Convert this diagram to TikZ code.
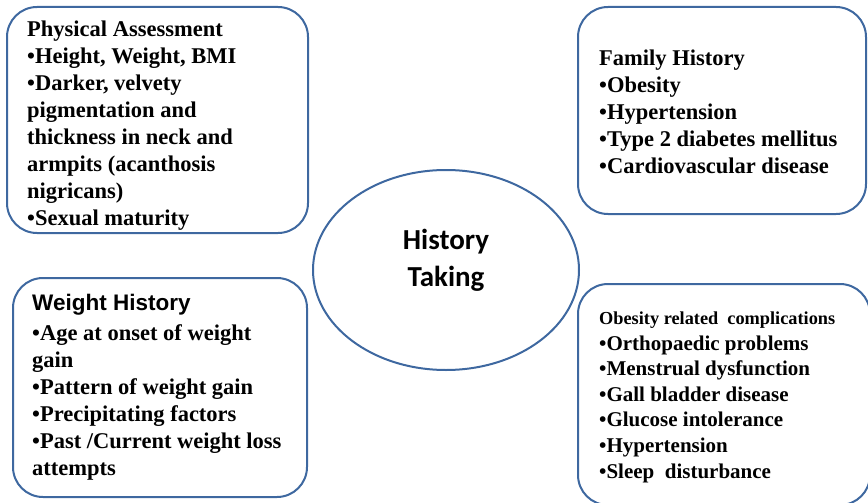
\documentclass[tikz,border=0pt]{standalone}
\usepackage{fontspec}
\usepackage{tikz}
\usetikzlibrary{shapes.geometric}
\setmainfont{Liberation Serif}
\newfontfamily\calibri{Carlito}
\newfontfamily\arial{Liberation Sans}
\definecolor{boxblue}{RGB}{62,104,160}

\begin{document}
\begin{tikzpicture}[x=1pt, y=-1pt,
    box/.style={draw=boxblue, line width=2pt, rounded corners=30pt, inner sep=0pt},
    txt/.style={anchor=north west, align=left, inner sep=0pt,
        font=\bfseries\fontsize{22.5}{27}\selectfont},
    hub/.style={draw=boxblue, line width=2pt, ellipse, inner sep=0pt}]

    \useasboundingbox (0,0) rectangle (868,503);

    % Centre
    \node[hub, minimum width=266, minimum height=200] (hist) at (446,270) {};
    \node[align=center, font=\calibri\bfseries\fontsize{29}{37}\selectfont] (histText) at (446,260) {History\\Taking};

    % Top left
    \node[box, minimum width=301, minimum height=226] (phys) at (157.5,120) {};
    \node[txt] (physText) at ([shift={(21,14.2)}]phys.north west)
        {Physical Assessment\\
         \textbullet Height, Weight, BMI\\
         \textbullet Darker, velvety\\
         pigmentation and\\
         thickness in neck and\\
         armpits (acanthosis\\
         nigricans)\\
         \textbullet Sexual maturity};

    % Top right
    \node[box, minimum width=288, minimum height=207] (family) at (722,110.5) {};
    \node[txt] (familyText) at ([shift={(22,44)}]family.north west)
        {Family History\\
         \textbullet Obesity\\
         \textbullet Hypertension\\
         \textbullet Type 2 diabetes mellitus\\
         \textbullet Cardiovascular disease};

    % Bottom left
    \node[box, minimum width=294, minimum height=219] (weight) at (160,387.5) {};
    \node[txt] (weightText) at ([shift={(20,16.5)}]weight.north west)
        {{\arial\fontsize{22.5}{27}\selectfont Weight History}\\[3pt]
         \textbullet Age at onset of weight\\
         gain\\
         \textbullet Pattern of weight gain\\
         \textbullet Precipitating factors\\
         \textbullet Past /Current weight loss\\
         attempts};

    % Bottom right
    \node[box, minimum width=292, minimum height=221] (compl) at (724,394.5) {};
    \node[txt, font=\bfseries\fontsize{21}{25.6}\selectfont] (complText) at ([shift={(22,28.5)}]compl.north west)
        {{\fontsize{18.3}{22}\selectfont Obesity related\ \ complications}\\
         \textbullet Orthopaedic problems\\
         \textbullet Menstrual dysfunction\\
         \textbullet Gall bladder disease\\
         \textbullet Glucose intolerance\\
         \textbullet Hypertension\\
         \textbullet Sleep\ \ disturbance};
\end{tikzpicture}
\end{document}
